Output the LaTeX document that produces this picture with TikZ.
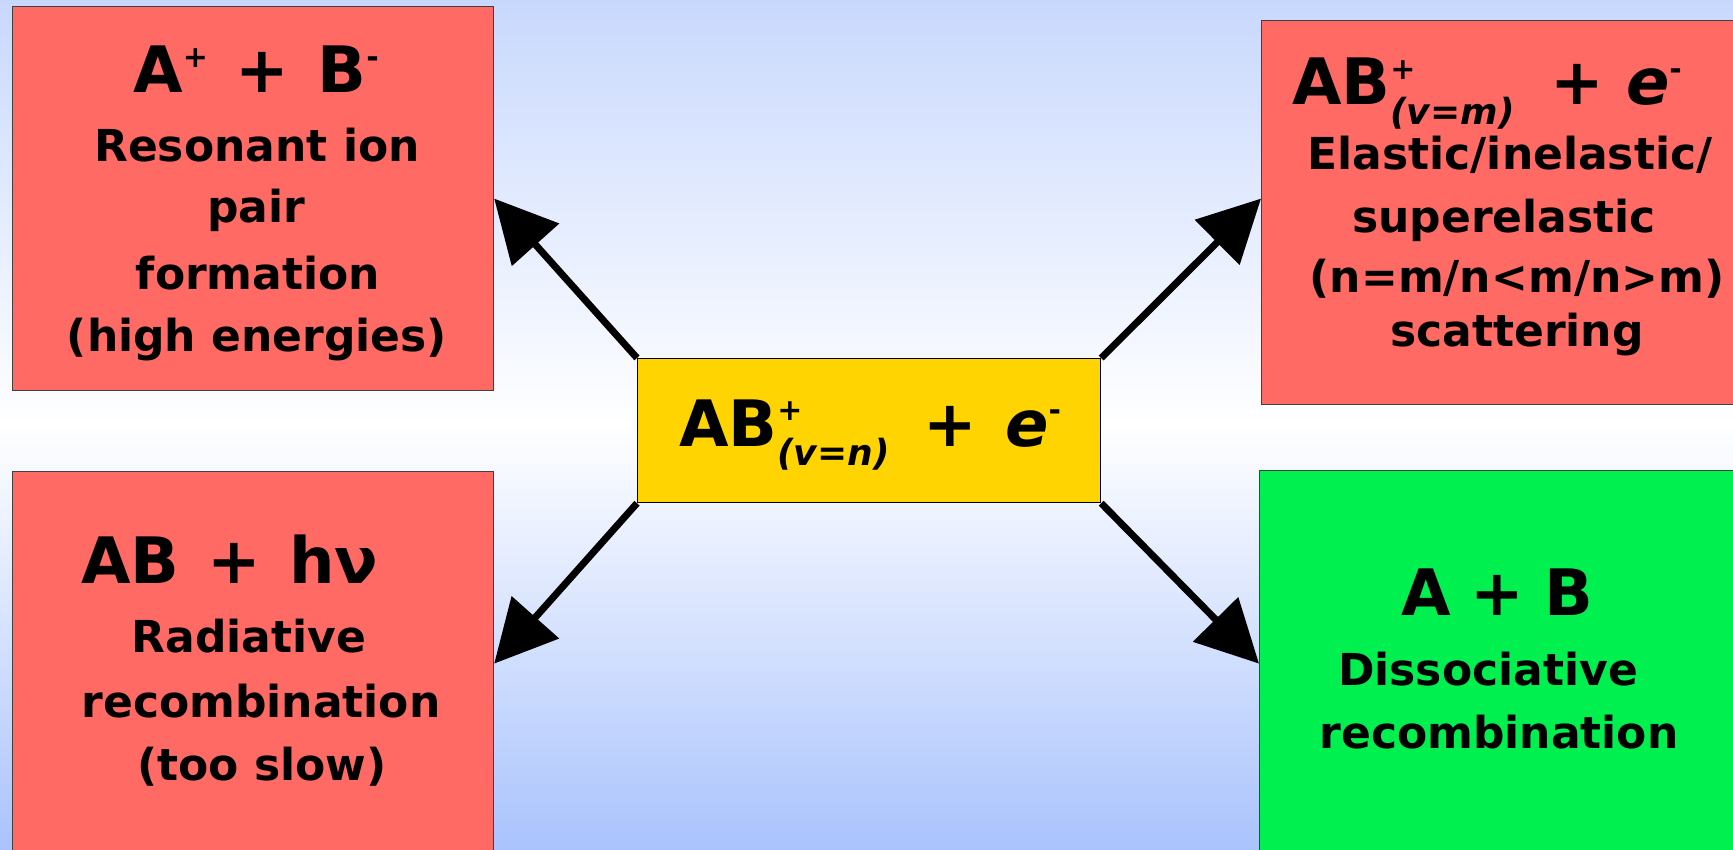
\documentclass[tikz,border=0pt]{standalone}
\usepackage{fontspec}
\setmainfont{DejaVu Sans}
\usetikzlibrary{arrows.meta,calc}
\definecolor{bgtop}{RGB}{200,216,253}
\definecolor{bgbot}{RGB}{170,195,253}
\definecolor{redbox}{RGB}{255,106,100}
\definecolor{greenbox}{RGB}{0,240,80}
\definecolor{yellowbox}{RGB}{255,212,0}
\newcommand\upsc[1]{\raisebox{25pt}{\fontsize{30}{30}\selectfont #1}}
\newcommand\suplow[2]{\makebox[0pt][l]{\raisebox{25pt}{\fontsize{30}{30}\selectfont #1}}\raisebox{-20pt}{\fontsize{36}{36}\selectfont\itshape #2}}
\begin{document}
\begin{tikzpicture}[x=1pt,y=-1pt,
  box/.style={draw=black!75, line width=1.2pt, anchor=north west, inner sep=0pt},
  head/.style={anchor=base, inner sep=0pt, font=\fontsize{64}{72}\selectfont\bfseries},
  body/.style={anchor=base, inner sep=0pt, font=\fontsize{44}{50}\selectfont\bfseries},
  arr/.style={line width=7pt, -{Triangle[length=62pt,width=62pt]}}]
\useasboundingbox (0,0) rectangle (1733,850);
\clip (0,0) rectangle (1733,850);
\shade[top color=bgtop, bottom color=bgbot, middle color=white] (0,0) rectangle (1733,850);

% boxes
\node[box, fill=redbox, minimum width=481pt, minimum height=384pt] (tl) at (12,6) {};
\node[box, fill=redbox, minimum width=481pt, minimum height=384pt] (tr) at (1261,20) {};
\node[box, fill=redbox, minimum width=481pt, minimum height=384pt] (bl) at (12,471) {};
\node[box, fill=greenbox, minimum width=481pt, minimum height=384pt] (br) at (1259,470) {};

% centre box and arrows
\node[box, draw=black, fill=yellowbox, minimum width=463pt, minimum height=144pt] (c) at (637,358) {};
\draw[arr] (c.north west) -- (tl.east);
\draw[arr] (c.north east) -- (tl.east -| tr.west);
\draw[arr] (c.south west) -- (bl.east);
\draw[arr] (c.south east) -- (bl.east -| br.west);
\node[box, draw=black, fill=yellowbox, minimum width=463pt, minimum height=144pt] (c2) at (637,358) {};

% top-left text
\node[head] (tl0) at (256,93) {A\upsc{+}\hspace{28pt}+\hspace{28pt}B\upsc{-}};
\node[body] (tl1) at (257,162) {Resonant ion};
\node[body] (tl2) at (256,223) {pair};
\node[body] (tl3) at (258,290) {formation};
\node[body] (tl4) at (257,352) {(high energies)};

% top-right text
\node[head] (tr0) at (1487,105) {AB\suplow{+}{(v=m)}\hspace{36pt}+\hspace{22pt}\textit{e}\upsc{-}};
\node[body] (tr1) at (1510,170) {Elastic/inelastic/};
\node[body] (tr2) at (1504,233) {superelastic};
\node[body] (tr3) at (1517,293) {(n=m/n<m/n>m)};
\node[body] (tr4) at (1517,347) {scattering};

% center text
\node[head] (c0) at (870,446) {AB\suplow{+}{(v=n)}\hspace{34pt}+\hspace{28pt}\textit{e}\upsc{-}};

% bottom-left text
\node[head] (bl0) at (230,583) {AB\hspace{28pt}+\hspace{28pt}hν};
\node[body] (bl1) at (249,652) {Radiative};
\node[body] (bl2) at (261,717) {recombination};
\node[body] (bl3) at (262,780) {(too slow)};

% bottom-right text
\node[head] (br0) at (1497,615) {A\hspace{20pt}+\hspace{20pt}B};
\node[body] (br1) at (1488,685) {Dissociative};
\node[body] (br2) at (1499,748) {recombination};
\end{tikzpicture}
\end{document}
